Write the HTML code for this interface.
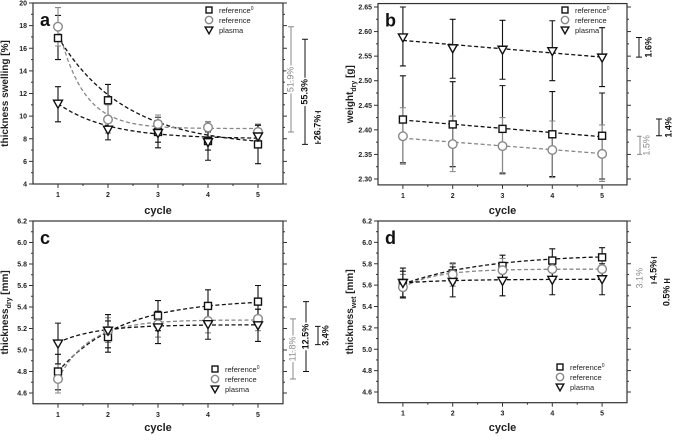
<!DOCTYPE html>
<html><head><meta charset="utf-8"><style>
body{margin:0;background:#fff;}
svg text{font-family:"Liberation Sans",sans-serif;}
</style></head><body>
<svg id="c" width="685" height="435" xmlns="http://www.w3.org/2000/svg"></svg>
<script>
// ---------- data ----------
const cycles=[1,2,3,4,5];
// panel a: thickness swelling
const aRef0=[16.9,11.4,8.6,7.8,7.5];
const aRef0Lo=[15.0,9.9,7.2,6.1,5.8];
const aRef0Hi=[18.9,12.8,9.9,9.5,9.2];
const aRef=[17.9,9.7,9.3,9.0,8.6];
const aRefLo=[16.2,8.5,8.4,8.2,7.9];
const aRefHi=[19.6,11.0,10.1,9.5,9.3];
const aPla=[11.1,8.8,8.5,7.7,8.2];
const aPlaLo=[9.5,7.9,7.7,7.0,7.2];
const aPlaHi=[12.6,9.5,9.6,8.6,9.2];
const aFitRef0=[7.3,9.7,0.75], aFitRef=[8.9,9.0,2.0], aFitPla=[8.0,3.1,1.0];
// panel b: weight dry
const bRef0=[2.421,2.411,2.402,2.391,2.388];
const bRef0Lo=[2.333,2.325,2.312,2.305,2.300];
const bRef0Hi=[2.510,2.498,2.490,2.478,2.475];
const bRef=[2.387,2.371,2.367,2.359,2.351];
const bRefLo=[2.330,2.315,2.310,2.303,2.295];
const bRefHi=[2.445,2.428,2.425,2.418,2.410];
const bPla=[2.588,2.566,2.563,2.560,2.547];
const bPlaLo=[2.530,2.505,2.503,2.500,2.488];
const bPlaHi=[2.650,2.625,2.623,2.622,2.608];
const bFitRef0=[2.420,-0.0085], bFitRef=[2.383,-0.0078], bFitPla=[2.582,-0.0085];
// panel c: thickness dry
const cRef0=[4.80,5.12,5.32,5.41,5.45];
const cRef0Lo=[4.63,4.98,5.18,5.26,5.30];
const cRef0Hi=[4.96,5.27,5.46,5.56,5.60];
const cRef=[4.73,5.18,5.24,5.27,5.29];
const cRefLo=[4.60,5.07,5.12,5.16,5.18];
const cRefHi=[4.87,5.30,5.36,5.38,5.38];
const cPla=[5.06,5.18,5.21,5.24,5.23];
const cPlaLo=[4.87,5.02,5.06,5.10,5.08];
const cPlaHi=[5.25,5.33,5.36,5.38,5.38];
const cFitRef0=[5.47,-0.67,0.8], cFitRef=[5.28,-0.55,1.6], cFitPla=[5.235,-0.165,1.3];
// panel d: thickness wet
const dRef0=[5.62,5.71,5.78,5.83,5.86];
const dRef0Lo=[5.49,5.62,5.67,5.72,5.76];
const dRef0Hi=[5.73,5.80,5.88,5.94,5.95];
const dRef=[5.58,5.70,5.74,5.75,5.75];
const dRefLo=[5.48,5.59,5.64,5.65,5.65];
const dRefHi=[5.70,5.81,5.85,5.84,5.85];
const dPla=[5.62,5.63,5.64,5.65,5.655];
const dPlaLo=[5.48,5.49,5.50,5.51,5.51];
const dPlaHi=[5.76,5.77,5.78,5.79,5.80];
const dFitRef0=[5.89,-0.28,0.6], dFitRef=[5.75,-0.17,1.5], dFitPla=[5.655,-0.035,1.0];
const aTicks=[4,6,8,10,12,14,16,18,20];
const bTicks=[2.30,2.35,2.40,2.45,2.50,2.55,2.60,2.65];
const cdTicks=[4.6,4.8,5.0,5.2,5.4,5.6,5.8,6.0,6.2];
const legendLabels=["reference","reference","plasma"];

const svg=document.getElementById('c');
const NS="http://www.w3.org/2000/svg";
function mk(t,at,parent){const e=document.createElementNS(NS,t);for(const k in at)e.setAttribute(k,at[k]);(parent||svg).appendChild(e);return e;}
const GRAY="#888", BLK="#111";

function panel(P){
  const g=mk('g',{});
  
  
  const X=v=>P.x0+(v-0.5)/5*(P.x1-P.x0);
  const Y=v=>P.yb+(v-P.ymin)/(P.ymax-P.ymin)*(P.yt-P.yb);
  const top=Y(P.boxTop), bot=Y(P.boxBot);
  const box=mk('rect',{x:P.x0,y:top,width:P.x1-P.x0,height:bot-top,fill:'none',stroke:'#333','stroke-width':1.2},g);
  
  
  // y ticks
  const step=P.ticks[1]-P.ticks[0];
  P.ticks.forEach((t,i)=>{
    const y=Y(t);
    mk('line',{x1:P.x0-4,x2:P.x0,y1:y,y2:y,stroke:'#333'},g);
    mk('line',{x1:P.x1,x2:P.x1+4,y1:y,y2:y,stroke:'#333'},g);
    const lb=mk('text',{x:P.x0-6,y:y+2.5,'font-size':7,'font-weight':'bold','text-anchor':'end',fill:'#222'},g);
    lb.textContent=P.fmt(t);
    
    
    if(i<P.ticks.length-1){const ym=Y(t+step/2);
      mk('line',{x1:P.x0-2,x2:P.x0,y1:ym,y2:ym,stroke:'#333'},g);
      mk('line',{x1:P.x1,x2:P.x1+2,y1:ym,y2:ym,stroke:'#333'},g);}
  });
  cycles.forEach(c=>{
    const x=X(c);
    mk('line',{x1:x,x2:x,y1:bot,y2:bot+4,stroke:'#333'},g);
    const lb=mk('text',{x:x,y:bot+13,'font-size':7,'font-weight':'bold','text-anchor':'middle',fill:'#222'},g);
    lb.textContent=c;
    
    
  });
  for(let v=1.5;v<5;v++){const x=X(v);mk('line',{x1:x,x2:x,y1:bot,y2:bot+2,stroke:'#333'},g);}
  // titles
  const xt=mk('text',{x:(P.x0+P.x1)/2,y:P.cycleY,'font-size':11,'font-weight':'bold','text-anchor':'middle',fill:'#222'},g);
  xt.textContent='cycle';
  
  
  const cy=(top+bot)/2, tx=P.x0-25;
  const yt=mk('text',{x:tx,y:cy,'font-size':10,'font-weight':'bold','text-anchor':'middle',fill:'#222',transform:`rotate(-90 ${tx} ${cy})`},g);
  yt.innerHTML=P.ytitle;
  
  
  const lt=mk('text',{x:P.x0+7,y:top+23,'font-size':18,'font-weight':'bold',fill:'#111'},g);
  lt.textContent=P.id;
  
  
  // fits
  P.series.forEach(s=>{
    let d='';
    for(let i=0;i<=60;i++){const xv=1+i*4/60;const yv=s.fit.length===3?s.fit[0]+s.fit[1]*Math.exp(-s.fit[2]*(xv-1)):s.fit[0]+s.fit[1]*(xv-1);
      d+=(i?'L':'M')+X(xv).toFixed(1)+','+Y(yv).toFixed(1);}
    const p=mk('path',{d:d,fill:'none',stroke:s.col,'stroke-width':1.3,'stroke-dasharray':'4,2.5'},g);
    
    
  });
  // error bars & markers
  P.series.forEach(s=>{
    s.v.forEach((v,i)=>{
      const x=X(cycles[i]),lo=Y(s.lo[i]),hi=Y(s.hi[i]);
      const eb=mk('path',{d:`M${x},${lo}L${x},${hi}M${x-3},${lo}L${x+3},${lo}M${x-3},${hi}L${x+3},${hi}`,stroke:s.col,'stroke-width':1.1,fill:'none'},g);
      
      
    });
  });
  P.series.forEach(s=>{
    s.v.forEach((v,i)=>{
      const m=marker(g,s.shape,X(cycles[i]),Y(v),s.col);
      
      
    });
  });
  // legend
  P.series.forEach((s,i)=>{
    const ly=P.legY+i*10;
    const m=marker(g,s.shape,P.legX,ly,s.key==='ref'?GRAY:BLK,0.85);
    
    
    const t=mk('text',{x:P.legX+10,y:ly+3,'font-size':7.5,fill:'#222'},g);
    t.innerHTML=legendLabels[i]+(i===0?'<tspan font-size="5" dy="-3">0</tspan>':'');
    
    
  });
  // annotations
  P.ann.forEach(a=>{
    const y1=Y(a.from),y2=Y(a.to);
    const b=mk('path',{d:`M${a.x},${y1}L${a.x},${y2}M${a.x-3},${y1}L${a.x+3},${y1}M${a.x-3},${y2}L${a.x+3},${y2}`,stroke:a.col,'stroke-width':1,fill:'none'},g);
    
    
    const tx=a.x+(a.dx||0),ty=a.ty!==undefined?Y(a.ty):(y1+y2)/2;
    const t=mk('text',{x:tx,y:ty,'font-size':9,'font-weight':a.col===BLK?'bold':'normal','text-anchor':'middle','dominant-baseline':'middle',fill:a.col,transform:`rotate(-90 ${tx} ${ty})`},g);
    t.textContent=a.label;
    
    
    t.setAttribute('style','paint-order:stroke;stroke:#fff;stroke-width:3px');
  });
}
function marker(g,shape,x,y,col,sc){
  sc=sc||1;let e;
  if(shape==='sq') e=mk('rect',{x:x-3.5*sc,y:y-3.5*sc,width:7*sc,height:7*sc,fill:'#fff',stroke:col,'stroke-width':1.4},g);
  else if(shape==='ci') e=mk('circle',{cx:x,cy:y,r:4.3*sc,fill:'#fff',stroke:col,'stroke-width':1.4},g);
  else e=mk('path',{d:`M${x-4.5*sc},${y-3.5*sc}L${x+4.5*sc},${y-3.5*sc}L${x},${y+4.5*sc}Z`,fill:'#fff',stroke:col,'stroke-width':1.4},g);
  return e;
}
const ser=(r0,r0l,r0h,f0,r,rl,rh,f,p,pl,ph,fp)=>[
  {key:'reference0',shape:'sq',col:BLK,v:r0,lo:r0l,hi:r0h,fit:f0},
  {key:'ref',shape:'ci',col:GRAY,v:r,lo:rl,hi:rh,fit:f},
  {key:'plasma',shape:'tr',col:BLK,v:p,lo:pl,hi:ph,fit:fp}];

panel({id:'a',x0:33,x1:283,yt:3,yb:184,ymin:4,ymax:20,boxTop:20,boxBot:4,ticks:aTicks,fmt:v=>v,
  ytitle:'thickness swelling [%]',cycleY:214,legX:209,legY:10,
  series:ser(aRef0,aRef0Lo,aRef0Hi,aFitRef0,aRef,aRefLo,aRefHi,aFitRef,aPla,aPlaLo,aPlaHi,aFitPla),
  ann:[{x:291,from:17.9,to:8.6,col:GRAY,label:'51.9%'},{x:305,from:16.8,to:7.5,col:BLK,label:'55.3%'},{x:318,from:10.4,to:7.6,col:BLK,label:'26.7%'}]});
panel({id:'b',x0:378,x1:627,yt:7,yb:179,ymin:2.30,ymax:2.65,boxTop:2.657,boxBot:2.288,ticks:bTicks,fmt:v=>v.toFixed(2),
  ytitle:'weight<tspan font-size="7" dy="3">dry</tspan><tspan dy="-3"> [g]</tspan>',cycleY:214,legX:565,legY:10,
  series:ser(bRef0,bRef0Lo,bRef0Hi,bFitRef0,bRef,bRefLo,bRefHi,bFitRef,bPla,bPlaLo,bPlaHi,bFitPla),
  ann:[{x:639,from:2.588,to:2.548,col:BLK,label:'1.6%',dx:10},{x:659,from:2.422,to:2.388,col:BLK,label:'1.4%',dx:10},{x:640,from:2.387,to:2.35,col:GRAY,label:'1.5%',dx:7}]});
panel({id:'c',x0:33,x1:283,yt:221,yb:393,ymin:4.6,ymax:6.2,boxTop:6.2,boxBot:4.5,ticks:cdTicks,fmt:v=>v.toFixed(1),
  ytitle:'thickness<tspan font-size="7" dy="3">dry</tspan><tspan dy="-3"> [mm]</tspan>',cycleY:431,legX:215,legY:369,
  series:ser(cRef0,cRef0Lo,cRef0Hi,cFitRef0,cRef,cRefLo,cRefHi,cFitRef,cPla,cPlaLo,cPlaHi,cFitPla),
  ann:[{x:293,from:5.29,to:4.73,col:GRAY,label:'11.8%'},{x:306,from:5.45,to:4.80,col:BLK,label:'12.5%'},{x:318,from:5.22,to:5.05,col:BLK,label:'3.4%',dx:8}]});
panel({id:'d',x0:378,x1:627,yt:221,yb:392,ymin:4.6,ymax:6.2,boxTop:6.2,boxBot:4.5,ticks:cdTicks,fmt:v=>v.toFixed(1),
  ytitle:'thickness<tspan font-size="7" dy="3">wet</tspan><tspan dy="-3"> [mm]</tspan>',cycleY:431,legX:560,legY:367,
  series:ser(dRef0,dRef0Lo,dRef0Hi,dFitRef0,dRef,dRefLo,dRefHi,dFitRef,dPla,dPlaLo,dPlaHi,dFitPla),
  ann:[{x:640,from:5.75,to:5.58,col:GRAY,label:'3.1%',dx:0},{x:654,from:5.86,to:5.62,col:BLK,label:'4.5%'},{x:667,from:5.655,to:5.625,col:BLK,label:'0.5%',dx:0,ty:5.5}]});
</script>
</body></html>
